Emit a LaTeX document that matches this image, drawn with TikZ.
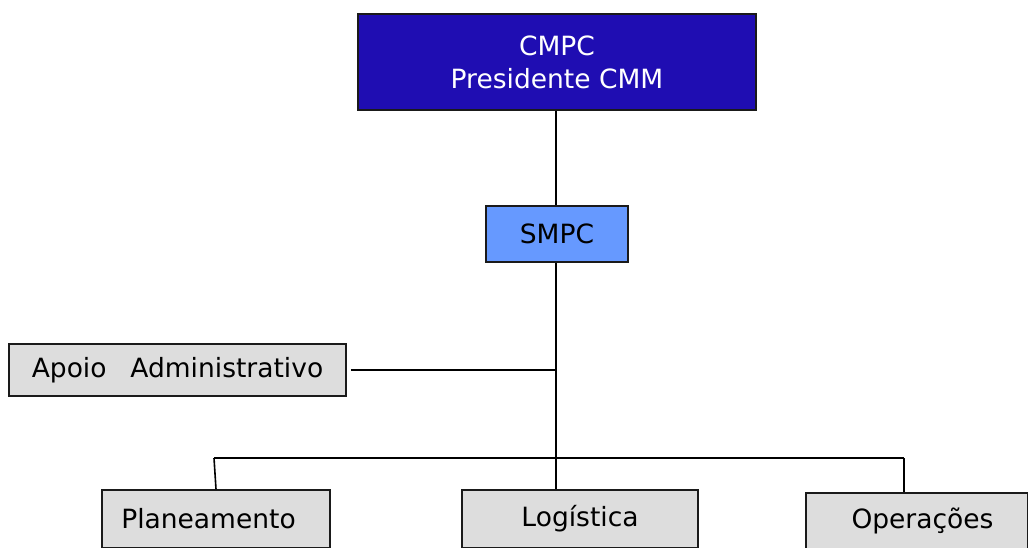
\documentclass[tikz,border=0pt]{standalone}
\usepackage{fontspec}
\setmainfont{DejaVu Sans}
\definecolor{chiefblue}{HTML}{1F0DB2}
\definecolor{deputyblue}{HTML}{6699FF}
\definecolor{unitgrey}{HTML}{DDDDDD}
\definecolor{edgegrey}{HTML}{1A1A1A}
\tikzset{
  orgbox/.style={draw=edgegrey, line width=1.8pt, rectangle, inner sep=0pt,
    font=\fontsize{26.5}{33}\selectfont, align=center},
  link/.style={draw=black, line width=1.6pt}
}
\begin{document}
\begin{tikzpicture}[x=1pt,y=-1pt]
\useasboundingbox (0,0) rectangle (1028,547);
\clip (0,0) rectangle (1028,547);
% top level
\node[orgbox, fill=chiefblue, text=white, minimum width=398pt, minimum height=96pt]
  (cmpc) at (557,62) {CMPC\\Presidente CMM};
\node[orgbox, fill=deputyblue, minimum width=142pt, minimum height=56pt]
  (smpc) at (557,234) {SMPC};
\node[orgbox, fill=unitgrey, minimum width=337pt, minimum height=52pt]
  (apoio) at (177.5,370) {Apoio\hspace{0.9em}Administrativo};
% bottom row (boxes run past the lower edge)
\node[orgbox, fill=unitgrey, minimum width=228pt, minimum height=58pt]
  (plan) at (216,519) {Planeamento\hspace{15pt}};
\node[orgbox, fill=unitgrey, minimum width=236pt, minimum height=58pt]
  (logi) at (580,519) {Logística};
\node[orgbox, fill=unitgrey, minimum width=222pt, minimum height=56pt]
  (oper) at (917,521) {\hspace{11pt}Operações};
% junctions
\coordinate (tap) at (556,370);
\coordinate (bus) at (556,458);
\coordinate (busL) at (214,458);
\coordinate (busR) at (904,458);
% connectors
\draw[link] (cmpc.south -| tap) -- (smpc.north -| tap);
\draw[link] (smpc.south -| tap) -- (logi.north -| tap);
\draw[link] (apoio.east) ++(4,0) -- (tap);
\draw[link] (busL) -- (busR);
\draw[link] (busL) -- (plan.north);
\draw[link] (busR) -- (busR |- oper.north);
\end{tikzpicture}
\end{document}
